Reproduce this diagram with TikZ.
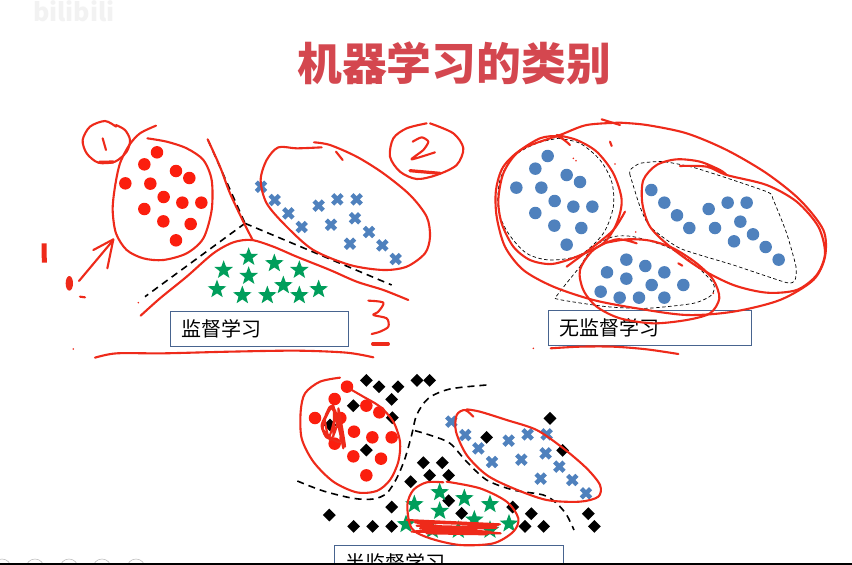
\documentclass[tikz,border=0pt]{standalone}
\usepackage{fontspec}
\setmainfont{Noto Sans CJK SC}
\usetikzlibrary{shapes.geometric}
\definecolor{inkred}{HTML}{EE2A1A}
\definecolor{dotred}{HTML}{FB1E0E}
\definecolor{dotblue}{HTML}{4F81BD}
\definecolor{stargreen}{HTML}{009E5B}
\definecolor{titlered}{HTML}{D4474F}
\definecolor{boxblue}{HTML}{48648F}
\begin{document}
\begin{tikzpicture}[x=1pt,y=-1pt,
 zoomA/.style={shift={(30,110)},scale=1/3},
 zoomB/.style={shift={(480,110)},scale=1/3},
 zoomC/.style={shift={(280,365)},scale=1/3},
 reddot/.style={circle,fill=dotred,inner sep=0,minimum size=12.5pt},
 bluedot/.style={circle,fill=dotblue,inner sep=0,minimum size=12.5pt},
 bluex/.style={draw=dotblue,line width=4.4pt},
 greenstar/.style={star,star points=5,star point ratio=2.4,fill=stargreen,inner sep=0,minimum size=19.5pt},
 blackdia/.style={diamond,fill=black,inner sep=0,minimum size=13pt},
 ink/.style={draw=inkred,line width=2.1pt,line cap=round,line join=round},
 inkthick/.style={draw=inkred,line width=3.2pt,line cap=round},
 splash/.style={circle,fill=inkred,inner sep=0,minimum size=1.8pt},
 guide/.style={draw=black,line width=1.6pt,dash pattern=on 7pt off 5pt},
 thinguide/.style={draw=black,line width=0.7pt,dash pattern=on 3.5pt off 2.5pt},
 labelbox/.style={draw=boxblue,line width=0.8pt,anchor=north west,minimum height=35pt,align=left,inner xsep=11pt,font=\fontsize{20}{22}\selectfont}]
\clip (0,0) rectangle (852,565);
\fill[white] (0,0) rectangle (852,565);
\node[font=\fontsize{25}{27}\selectfont\bfseries,text=black!5] (mark) at (74,11) {bilibili};
\node[font=\fontsize{44.8}{48}\selectfont\bfseries,text=titlered] (title) at (454,63) {机器学习的类别};
% supervised
\node[labelbox,text width=156pt] (sup) at (170,310.7) {监督学习};
\begin{scope}[zoomA]
\draw[guide] (533,88)--(645,340) coordinate (fork);
\draw[guide] (fork)--(1085,525);
\draw[guide] (fork)--(345,560);
\foreach \x/\y [count=\i] in {381/127,343/163,438/183,478/204,286/220,361/221,401/261,457/278,514/278,343/297,400/334,482/342,438/391}
 \node[reddot] (ra\i) at (\x,\y) {};
\foreach \x/\y in {693/230,734/270,775/310,815/351,866/287,922/268,980/268,975/325,903/344,1017/366,960/401,1057/406,1097/447}
 \draw[bluex] (\x,\y) +(-14,-14)--+(14,14) +(-14,14)--+(14,-14);
\foreach \x/\y [count=\i] in {656/441,733/460,808/480,581/480,656/498,760/526,866/538,561/538,637/556,712/556,808/556}
 \node[greenstar] (sa\i) at (\x,\y) {};
\draw[ink] plot[smooth] coordinates {(258,50)(225,33)(180,50)(158,90)(170,130)(205,158)(255,155)(290,125)(300,90)(285,60)(258,45)};
\draw[ink] (218,85)--(228,120);
\draw[inkthick] (208,157)--(250,156);
\draw[ink] plot[smooth] coordinates {(378,47)(330,70)(298,105)(270,160)(255,230)(248,300)(258,370)(290,420)(340,445)(400,450)(470,430)(520,385)(545,300)(545,210)(520,150)(470,115)(410,95)(352,85)};
\draw[ink] (147,513)--(250,390);
\draw[ink] (190,420)--(250,388)--(232,475);
\draw[draw=inkred,line width=5pt] (42,400)--(43,458);
\fill[inkred] (118,520) ellipse (11 and 22);
\draw[ink] (150,560)--(165,562);
\draw[ink] plot[smooth] coordinates {(533,88)(570,170)(600,250)(640,335)(668,390)};
\draw[ink] plot[smooth] coordinates {(332,617)(390,565)(470,500)(550,430)(610,397)(665,390)(730,410)(800,440)(900,480)(980,515)(1060,540)(1135,570)};
\draw[ink] plot[smooth] coordinates {(195,743)(260,730)(400,730)(600,725)(800,722)(950,728)(1030,742)};
\draw[ink] plot[smooth] coordinates {(1015,572)(1060,578)(1045,605)(1030,615)(1070,625)(1075,650)(1050,665)(1025,672)};
\draw[inkthick] (1028,702)--(1075,702);
\draw[ink] plot[smooth] coordinates {(1200,40)(1270,70)(1300,115)(1280,165)(1220,195)(1160,207)(1110,185)(1080,140)(1090,85)(1130,55)(1190,40)};
\draw[ink] plot[smooth,tension=0.4] coordinates {(1148,95)(1175,82)(1195,95)(1180,120)(1145,148)(1215,127)};
\draw[inkthick] (1140,182)--(1230,190);
\draw[ink] plot[smooth] coordinates {(875,112)(800,115)(745,112)(710,150)(692,210)(710,280)(770,350)(850,420)(960,465)(1060,480)(1130,470)(1185,430)(1200,380)(1190,320)(1140,255)(1060,190)(980,140)(900,105)(852,97)};
\draw[ink] (918,125)--(938,150);
\node[splash] (spa1) at (130,717) {};
\node[splash] (spa2) at (325,578) {};
\end{scope}
% unsupervised
\node[labelbox,text width=181pt] (unsup) at (548.3,310.3) {无监督学习};
\begin{scope}[zoomB]
\draw[thinguide] plot[smooth] coordinates {(235,85)(300,100)(360,150)(395,215)(400,290)(370,370)(300,435)(210,450)(140,430)(85,370)(55,300)(60,210)(100,140)(170,100)(235,85)};
\draw[thinguide] plot[smooth,tension=0.35] coordinates {(450,195)(450,180)(480,160)(550,155)(650,175)(860,245)(880,270)(920,370)(948,470)(945,510)(920,518)(760,465)(600,415)(510,350)(480,290)(450,195)};
\draw[thinguide] plot[smooth,tension=0.4] coordinates {(300,470)(340,410)(400,380)(460,380)(560,410)(640,460)(700,520)(695,555)(640,580)(500,595)(380,590)(235,568)(232,555)(300,470)};
\foreach \x/\y [count=\i] in {203/138,166/176,260/195,300/216,109/233,184/233,224/273,280/290,337/290,166/309,223/347,304/354,260/404,514/240,553/278,591/316,628/354,686/297,743/278,800/278,781/335,705/354,819/373,762/394,857/411,896/449,439/449,496/468,381/487,553/487,439/506,515/525,610/525,362/545,419/563,477/563,553/563}
 \node[bluedot] (db\i) at (\x,\y) {};
\draw[ink] (365,28)--(420,45);
\draw[ink] plot[smooth] coordinates {(420,38)(320,45)(240,75)(130,115)(70,170)(48,240)(50,320)(75,410)(130,480)(220,530)(340,570)(470,595)(620,615)(760,605)(900,570)(1000,510)(1035,440)(1030,360)(960,270)(860,190)(740,120)(620,70)(500,45)(420,38)};
\draw[ink] plot[smooth] coordinates {(270,105)(235,80)(180,85)(110,130)(70,190)(55,270)(65,340)(100,410)(150,450)(215,462)(290,440)(370,400)(410,340)(425,270)(400,190)(350,125)(290,90)(230,75)};
\draw[ink] plot[smooth] coordinates {(435,305)(400,360)(340,410)(260,470)};
\draw[ink] plot[smooth] coordinates {(600,168)(680,170)(740,195)(860,225)(950,275)(1015,350)(1035,430)(1010,495)(950,540)(860,548)(760,525)(660,475)(570,410)(510,350)(487,280)(490,210)(530,165)(590,148)(660,155)(720,180)(740,195)};
\draw[ink] plot[smooth] coordinates {(470,400)(410,388)(340,420)(300,480)(310,540)(350,590)(420,625)(520,640)(620,630)(690,610)(718,565)(700,510)(650,460)(580,415)(510,392)(440,388)(370,400)};
\draw[ink] plot[smooth] coordinates {(212,715)(300,710)(400,710)(500,718)(595,732)};
\draw[ink] (390,95)--(395,108);
\draw[ink] (595,460)--(607,467);
\foreach \x/\y [count=\i] in {280/145,288/152,405/162,467/366,160/715,700/550}
 \node[splash] (spb\i) at (\x,\y) {};
\end{scope}
% semi-supervised
\node[labelbox,text width=207pt] (semi) at (334.3,545.3) {半监督学习};
\begin{scope}[zoomC]
\draw[guide] plot[smooth] coordinates {(52,348)(130,378)(220,400)(280,402)(320,385)(350,340)(375,280)(395,210)(410,150)(445,100)(510,72)(620,60)};
\draw[guide] plot[smooth] coordinates {(405,197)(455,212)(510,235)(560,290)(620,345)(700,375)(790,390)(830,415)(860,450)(882,495)};
\foreach \x/\y [count=\i] in {259/46,297/65,354/65,411/46,449/46,335/103,220/122,337/158,810/160,620/217,848/256,259/255,430/293,487/293,449/331,506/331,392/350,506/407,335/426,698/426,545/445,754/446,925/446,148/450,221/484,278/484,335/484,735/484,791/484,943/484,150/180}
 \node[blackdia] (dc\i) at (\x,\y) {};
\foreach \x/\y [count=\i] in {201/65,164/102,259/122,298/142,105/159,181/159,222/200,277/217,335/217,164/236,220/274,303/281,259/331}
 \node[reddot] (rc\i) at (\x,\y) {};
\foreach \x/\y in {514/170,556/210,595/250,636/291,686/227,743/208,800/208,797/265,724/284,838/305,782/341,877/345,918/385}
 \draw[bluex] (\x,\y) +(-14,-14)--+(14,14) +(-14,14)--+(14,-14);
\foreach \x/\y [count=\i] in {479/382,553/400,630/418,403/418,479/438,583/464,687/476,378/478,457/495,535/495,630/495}
 \node[greenstar] (sc\i) at (\x,\y) {};
\draw[ink] plot[smooth] coordinates {(180,38)(120,50)(75,85)(62,140)(65,220)(100,290)(160,350)(230,382)(290,378)(330,345)(355,290)(360,230)(340,170)(300,125)(250,95)(210,72)};
\draw[ink] plot[smooth,tension=0.5] coordinates {(130,170)(150,125)(165,150)(145,220)(125,180)(155,130)(170,180)(150,225)(135,160)(160,125)(190,250)(165,135)(195,245)(175,130)(180,230)(128,190)(160,122)(160,215)};
\draw[ink] plot[smooth] coordinates {(580,155)(555,135)(530,150)(528,200)(560,270)(620,330)(700,370)(800,405)(900,410)(955,395)(960,360)(920,310)(850,250)(770,195)(680,165)(600,140)(560,133)};
\draw[ink] plot[smooth] coordinates {(490,352)(440,352)(400,375)(382,420)(395,490)(450,520)(540,540)(640,535)(700,500)(715,460)(680,410)(600,370)(500,350)};
\draw[ink] (380,465)--(660,478)--(395,500)--(662,505)--(410,482)--(650,488)--(430,497)--(630,500)--(420,490)--(655,480)--(440,505)--(620,508)--(405,472)--(600,478);
\end{scope}
\foreach \x in {2,35,69,102,136}
 \draw[black!25,line width=0.6pt] (\x-9,568) arc[start angle=180,end angle=360,radius=9];
\fill[black] (0,562.5) rectangle (852,565);
\end{tikzpicture}
\end{document}
